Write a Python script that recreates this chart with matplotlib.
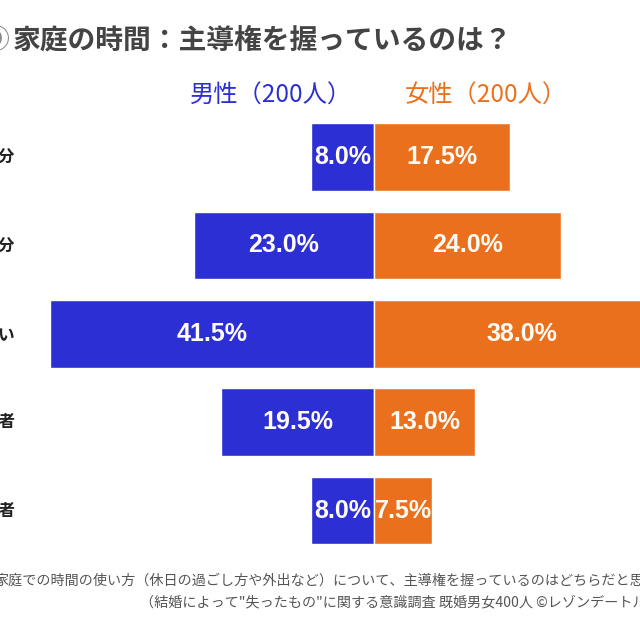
import matplotlib
matplotlib.use("Agg")
import matplotlib.pyplot as plt
import matplotlib.transforms as mtransforms

plt.rcParams['font.family'] = ['Noto Sans CJK JP', 'DejaVu Sans']

# ---- data ----
categories = ["自分", "どちらかといえば自分", "どちらともいえない", "どちらかといえば配偶者", "配偶者"]
male = [8.0, 23.0, 41.5, 19.5, 8.0]
female = [17.5, 24.0, 38.0, 13.0, 7.5]
male_label = "男性（200人）"
female_label = "女性（200人）"
title = "家庭の時間：主導権を握っているのは？"
title_mark = "⑨"
note1 = "家庭での時間の使い方（休日の過ごし方や外出など）について、主導権を握っているのはどちらだと思いますか？"
note2 = "（結婚によって\"失ったもの\"に関する意識調査 既婚男女400人 ©レゾンデートル株式会社）"

BLUE = "#2B2FD4"
ORANGE = "#EA701E"

W = H = 640
fig = plt.figure(figsize=(6.4, 6.4), dpi=100)
ax = fig.add_axes([0, 0, 1, 1])
ax.axis("off")

# scale: zero at x=373.7 px, 7.81 px per percent
px_per = 7.81
x0 = 373.7
ax.set_xlim(-x0 / px_per, (W - x0) / px_per)
# rows: first center at 157 px from top, spacing 88.4 px
y_first = 157.0
y_step = 88.4
ax.set_ylim((H - y_first) / y_step, -y_first / y_step)

ypos = list(range(len(categories)))
bar_h = 0.764
ax.barh(ypos, [-v for v in male], height=bar_h, color=BLUE, edgecolor="white", linewidth=1.0)
ax.barh(ypos, female, height=bar_h, color=ORANGE, edgecolor="white", linewidth=1.0)

for i, (m, f) in enumerate(zip(male, female)):
    ax.text(-m / 2, i, f"{m:.1f}%", ha="center", va="center", color="#FFFBF5",
            fontsize=18, fontweight="bold", family=["Liberation Sans", "DejaVu Sans"])
    ax.text(f / 2, i, f"{f:.1f}%", ha="center", va="center", color="#FFFBF5",
            fontsize=18, fontweight="bold", family=["Liberation Sans", "DejaVu Sans"])

trans = mtransforms.blended_transform_factory(fig.transFigure, ax.transData)
for i, c in enumerate(categories):
    ax.text(15 / W, i, c, transform=trans, ha="right", va="center",
            fontsize=12, fontweight="bold", color="#222222")

# title
fig.text(13 / W, 1 - 41 / H, title, ha="left", va="center", fontsize=20,
         fontweight="bold", color="#444444")
fig.text(9 / W, 1 - 41 / H, title_mark, ha="right", va="center", fontsize=20,
         fontweight="bold", color="#8a8a8a")

# legend headers
fig.text(271 / W, 1 - 96 / H, male_label, ha="center", va="center", fontsize=17.5, color=BLUE)
fig.text(486 / W, 1 - 96 / H, female_label, ha="center", va="center", fontsize=17.5, color=ORANGE)

# notes
fig.text(-6 / W, 1 - 581 / H, note1, ha="left", va="center", fontsize=10.15, color="#555555")
fig.text(140 / W, 1 - 602 / H, note2, ha="left", va="center", fontsize=10.15, color="#555555")

fig.savefig("out.png", dpi=100)
